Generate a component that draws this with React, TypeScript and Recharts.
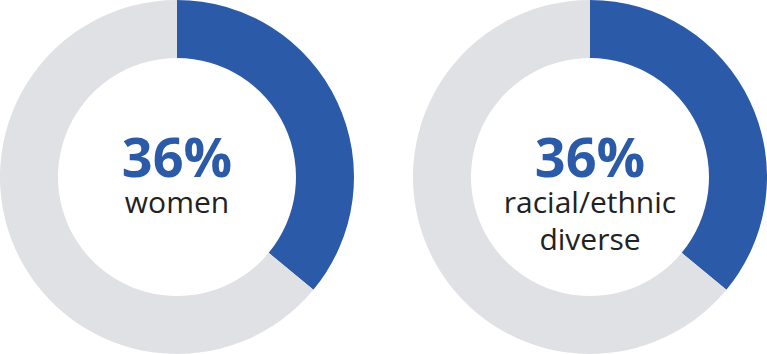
import { PieChart, Pie, Cell, Label } from 'recharts'

const groups = ['women', 'racial/ethnic diverse']
const groupLines = [['women'], ['racial/ethnic', 'diverse']]
const shares = [36, 36]
const centersX = [177, 590]
const CY = 177

const BLUE = '#2b5ba8'
const GREY = '#e0e1e4'

const centerLabel = (i: number) => () => {
  const cx = centersX[i]
  const cy = CY
  return (
    <g fontFamily="'Open Sans', sans-serif" textAnchor="middle">
      <text x={cx} y={cy} fontSize={54} fontWeight={700} fill={BLUE}>
        {`${shares[i]}%`}
      </text>
      {groupLines[i].map((line, j) => (
        <text key={j} x={cx} y={cy + 36 + j * 37} fontSize={30} fill="#222">
          {line}
        </text>
      ))}
    </g>
  )
}

export default function App() {
  return (
    <div style={{ position: 'absolute', left: 0, top: 0, background: '#fff' }}>
      <PieChart width={767} height={354} margin={{ top: 0, right: 0, bottom: 0, left: 0 }}>
        {groups.map((g, i) => (
          <Pie
            key={g}
            data={[
              { name: g, value: shares[i] },
              { name: 'rest', value: 100 - shares[i] },
            ]}
            dataKey="value"
            cx={centersX[i]}
            cy={CY}
            outerRadius={177}
            innerRadius={119}
            startAngle={90}
            endAngle={-270}
            stroke="none"
            isAnimationActive={false}
          >
            <Cell fill={BLUE} />
            <Cell fill={GREY} />
            <Label position="center" content={centerLabel(i)} />
          </Pie>
        ))}
      </PieChart>
    </div>
  )
}
